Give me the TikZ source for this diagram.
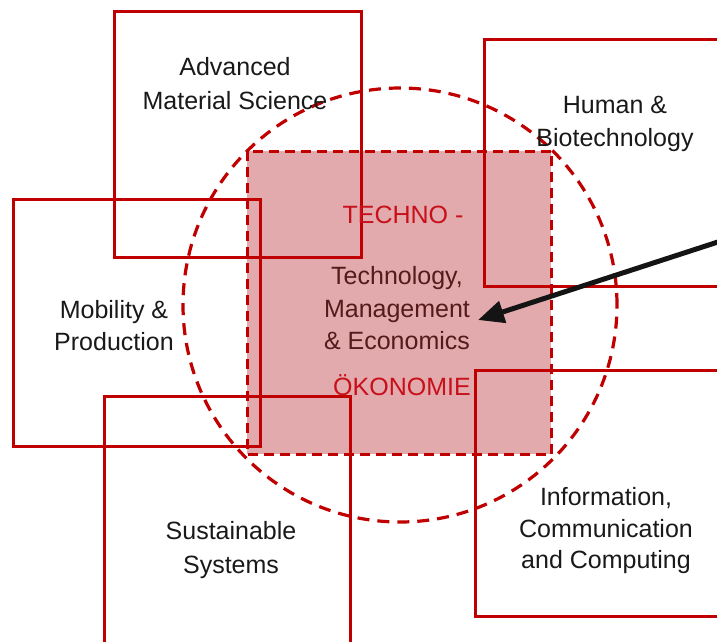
\documentclass[tikz,border=0pt]{standalone}
\usepackage{fontspec}
\setmainfont{Liberation Sans}
\usetikzlibrary{arrows.meta}
\definecolor{boxred}{HTML}{C00000}
\definecolor{pinkfill}{HTML}{E2AAAC}
\definecolor{darktext}{HTML}{541A1C}
\definecolor{techred}{HTML}{C8101A}
\tikzset{
  boxst/.style={draw=boxred, line width=3pt, rectangle, inner sep=0pt, anchor=north west},
  lbl/.style={font=\fontsize{25}{30}\selectfont, text=black!90, anchor=base, inner sep=0pt},
  midlbl/.style={lbl, text=darktext},
  techlbl/.style={lbl, text=techred},
}
\begin{document}
\begin{tikzpicture}[x=1pt,y=-1pt]
\useasboundingbox (0,0) rectangle (717,641);
\clip (0,0) rectangle (717,641);
% pink square
\node[anchor=north west, fill=pinkfill, minimum width=304, minimum height=303, inner sep=0pt] (core) at (247,151) {};
% boxes
\node[boxst, minimum width=247, minimum height=246] (ams) at (113,10) {};
\node[boxst, minimum width=260, minimum height=247] (hbt) at (483,38) {};
\node[boxst, minimum width=247, minimum height=247] (mob) at (12,198) {};
\node[boxst, minimum width=246, minimum height=260] (sus) at (103,395) {};
\node[boxst, minimum width=260, minimum height=246] (icc) at (474,369) {};
% dashed circle
\node[circle, draw=boxred, line width=3.2pt, dash pattern=on 12pt off 8pt, minimum size=434, inner sep=0pt] (ring) at (400,305) {};
% dashed border of core
\draw[boxred, line width=3pt, dash pattern=on 10pt off 6pt] (core.north west) rectangle (core.south east);
% box labels
\node[lbl] (amsA) at (235,75) {Advanced};
\node[lbl] (amsB) at (235,109) {Material Science};
\node[lbl] (hbtA) at (615,113) {Human \&};
\node[lbl] (hbtB) at (615,146) {Biotechnology};
\node[lbl] (mobA) at (114,318) {Mobility \&};
\node[lbl] (mobB) at (114,350) {Production};
\node[lbl] (susA) at (231,539) {Sustainable};
\node[lbl] (susB) at (231,573) {Systems};
\node[lbl] (iccA) at (606,505) {Information,};
\node[lbl] (iccB) at (606,537) {Communication};
\node[lbl] (iccC) at (606,568) {and Computing};
% red titles
\node[techlbl] (techno) at (403,223) {TECHNO -};
\node[techlbl] (oeko) at (402,395) {ÖKONOMIE};
% central labels
\node[midlbl] (tmeA) at (397,284) {Technology,};
\node[midlbl] (tmeB) at (397,317) {Management};
\node[midlbl] (tmeC) at (397,349) {\& Economics};
% arrow
\coordinate (arrtail) at (724,240);
\coordinate (arrtip) at (478,320);
\draw[line width=5pt, black!92, -{Triangle[length=26pt,width=22pt]}] (arrtail) -- (arrtip);
\end{tikzpicture}
\end{document}
